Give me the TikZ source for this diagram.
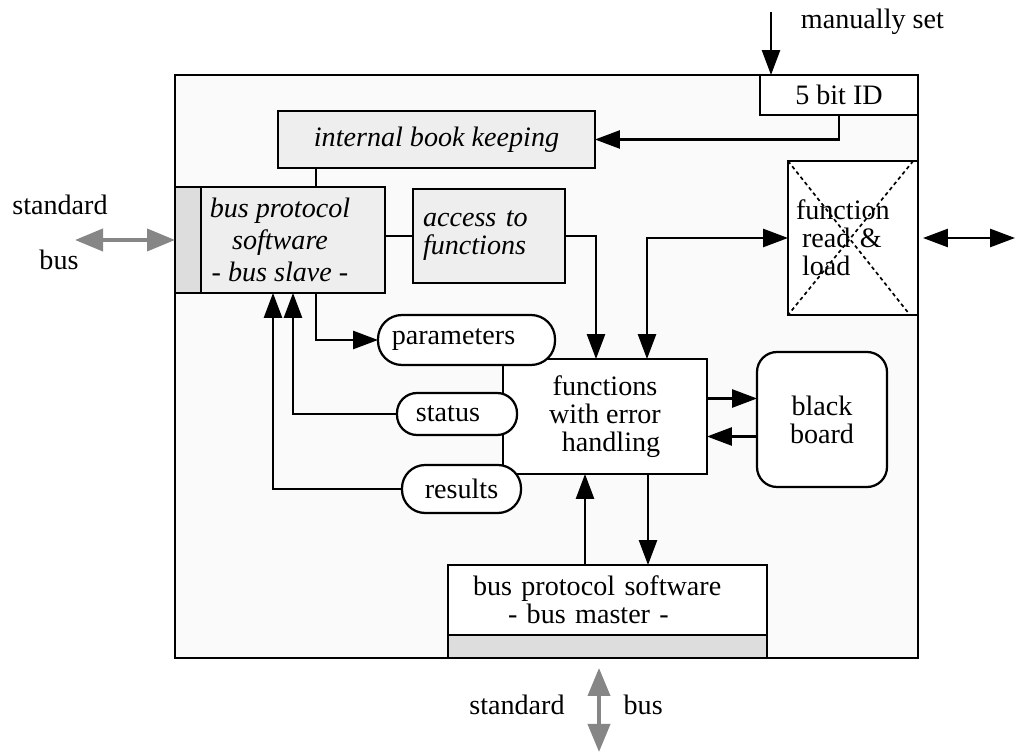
\documentclass[tikz,border=0pt]{standalone}
\usepackage{fontspec}
\setmainfont{Liberation Serif}
\usepackage{tikz}
\usetikzlibrary{arrows.meta,positioning}

\definecolor{framefill}{HTML}{FAFAFA}
\definecolor{boxgray}{HTML}{EEEEEE}
\definecolor{stripgray}{HTML}{DDDDDD}
\definecolor{busgray}{HTML}{868686}
\newcommand{\diagfont}{\fontsize{20}{20}\selectfont}

\begin{document}
\begin{tikzpicture}[
  every node/.style={font=\diagfont},
  box/.style={draw, line width=1.6pt, inner sep=0pt, outer sep=0pt, align=center},
  plain/.style={box, fill=white},
  shaded/.style={box, fill=boxgray, font=\diagfont\itshape},
  pill/.style={plain, rounded corners=#1},
  strip/.style={draw, line width=1.6pt, fill=stripgray},
  cross/.style={line width=1.2pt, dash pattern=on 2.6pt off 2.2pt},
  arr/.style={-{Triangle[length=0.62cm,width=0.45cm]}, line width=1.6pt},
  arrb/.style={{Triangle[length=0.62cm,width=0.45cm]}-{Triangle[length=0.62cm,width=0.45cm]}, line width=1.6pt},
  busarr/.style={{Triangle[length=0.7cm,width=0.55cm]}-{Triangle[length=0.7cm,width=0.55cm]}, line width=2.8pt, draw=busgray}
]
\useasboundingbox (0,0) rectangle (25.375,18.85);

\node[box, fill=framefill, minimum width=18.575cm, minimum height=14.575cm] (unit) at (13.6625,9.6875) {};
\node[plain, minimum width=3.95cm, minimum height=1cm] (id5) at (20.975,16.475) {5 bit ID};
\node[shaded, minimum width=7.925cm, minimum height=1.425cm] (bookkeep) at (10.9125,15.3625) {internal book keeping};
\node[shaded, minimum width=5.25cm, minimum height=2.65cm, font=\fontsize{20}{22.5}\selectfont\itshape] (slave) at (7,12.85) {bus protocol\\software\\- bus slave -};
\draw[strip] (slave.north west) rectangle ([xshift=0.645cm]slave.south west);
\node[shaded, minimum width=3.8cm, minimum height=2.35cm, inner xsep=0.25cm, text width=3.3cm, align=left] (access) at (12.225,12.95) {access to\\functions};
\node[plain, minimum width=3.25cm, minimum height=3.85cm, inner xsep=0.2cm, text width=2.85cm, align=left] (loader) at (21.325,12.9) {function\\\hspace*{0.15cm}read \&\\\hspace*{0.15cm}load};
\draw[cross] (loader.north west) -- ([xshift=-0.2cm]loader.south east);
\draw[cross] ([xshift=-0.12cm]loader.north east) -- (loader.south west);
\node[plain, minimum width=5.1cm, minimum height=2.875cm] (funcs) at (15.125,8.4375) {functions\\with error\\\hspace*{0.3cm}handling};
\node[pill=0.6cm, minimum width=4.425cm, minimum height=1.25cm] (params) at (11.6625,10.35) {\hspace*{-0.65cm}parameters};
\node[pill=0.5cm, minimum width=3cm, minimum height=1.05cm] (status) at (11.425,8.5) {\hspace*{-0.45cm}status};
\node[pill=0.58cm, minimum width=2.975cm, minimum height=1.2cm] (results) at (11.5375,6.625) {results};
\node[plain, rounded corners=0.5cm, minimum width=3.25cm, minimum height=3.375cm] (board) at (20.55,8.3625) {black\\board};
\node[plain, minimum width=7.975cm, minimum height=1.75cm, inner xsep=0.625cm, text width=6.725cm, align=left] (master) at (15.1875,3.85) {bus protocol software\\\hspace*{0.875cm}- bus master -};
\draw[strip] (master.south west) rectangle ([yshift=-0.575cm]master.south east);

\node[anchor=west] (manuallbl) at (19.9,18.3) {manually set};
\node (stdleft) at (1.5,13.725) {standard};
\node (busleft) at (1.475,12.35) {bus};
\node (stdbottom) at (12.925,1.225) {standard};
\node (busbottom) at (16.08,1.225) {bus};

\coordinate (manual) at (19.275,18.55);
\coordinate (extR) at (25.375,12.9);
\coordinate (busL) at (1.875,12.85);
\coordinate (busB) at (14.975,0.05);

\draw[arr] (manual) -- (manual |- unit.north);
\draw[arr] (id5.south) |- (bookkeep.east);
\draw[line width=1.6pt] ([xshift=0.9cm]slave.north) -- ([xshift=0.9cm]slave.north |- bookkeep.south);
\draw[line width=1.6pt] (access.west -| slave.east) -- (access.west);
\draw[arr] (access.east) -| ([xshift=-0.225cm]funcs.north);
\draw[arrb] ([xshift=1.05cm]funcs.north) |- (loader.west);
\draw[arrb] ([xshift=0.125cm]loader.east) -- (extR);
\draw[arr] ([xshift=0.9cm]slave.south) |- (params.west);
\draw[arr] (status.west) -| ([xshift=0.325cm]slave.south);
\draw[arr] (results.west) -| ([xshift=-0.175cm]slave.south);
\draw[arr] ([yshift=0.45cm]funcs.east) -- ([yshift=0.45cm]funcs.east -| board.west);
\draw[arr] ([yshift=-0.5cm]funcs.east -| board.west) -- ([yshift=-0.5cm]funcs.east);
\draw[arr] ([xshift=-0.5cm]funcs.south |- master.north) -- ([xshift=-0.5cm]funcs.south);
\draw[arr] ([xshift=1.075cm]funcs.south) -- ([xshift=1.075cm]funcs.south |- master.north);
\draw[busarr] (busL) -- (slave.west);
\draw[busarr] ([xshift=-0.2125cm,yshift=-0.825cm]master.south) -- (busB);
\end{tikzpicture}
\end{document}
